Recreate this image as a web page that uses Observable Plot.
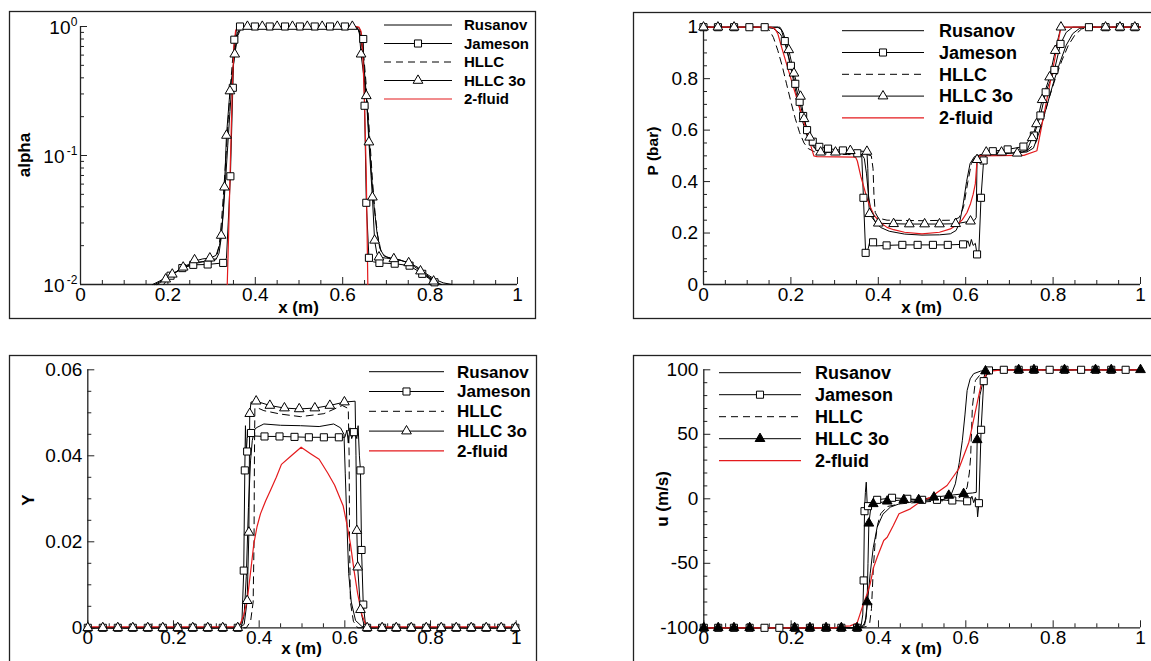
<!DOCTYPE html>
<html>
<head>
<meta charset="utf-8">
<script src="https://cdn.jsdelivr.net/npm/d3@7"></script>
<script src="https://cdn.jsdelivr.net/npm/@observablehq/plot@0.6"></script>
<style>
body { margin: 0; background: #fff; }
#root { position: relative; width: 1151px; height: 661px; overflow: hidden; background: #fff; }
</style>
</head>
<body>
<div id="root"></div>
<script>
// ---------------- tick labels / names ----------------
const xTickValues = [0, 0.2, 0.4, 0.6, 0.8, 1];
const alphaTickValues = [0.01, 0.1, 1];
const alphaTickExponents = ["-2", "-1", "0"];
const pTickValues = [0, 0.2, 0.4, 0.6, 0.8, 1];
const yTickValues = [0, 0.02, 0.04, 0.06];
const uTickValues = [-100, -50, 0, 50, 100];
const seriesNames = ["Rusanov", "Jameson", "HLLC", "HLLC 3o", "2-fluid"];

// ---------------- panel 1 : alpha (log) ----------------
const alphaRusanov = [[0.165,0.01],[0.18,0.0106],[0.2,0.0115],[0.22,0.0126],[0.24,0.0137],[0.26,0.0146],[0.28,0.015],[0.3,0.0152],[0.31,0.0156],[0.317,0.0175],[0.322,0.023],[0.327,0.037],[0.332,0.065],[0.337,0.12],[0.342,0.22],[0.347,0.38],[0.352,0.6],[0.357,0.8],[0.362,0.93],[0.368,0.985],[0.38,1],[0.62,1],[0.63,0.985],[0.636,0.94],[0.641,0.82],[0.646,0.62],[0.651,0.4],[0.656,0.24],[0.661,0.13],[0.666,0.07],[0.672,0.04],[0.678,0.026],[0.685,0.019],[0.695,0.0166],[0.71,0.016],[0.73,0.0155],[0.75,0.0148],[0.77,0.0137],[0.79,0.0122],[0.81,0.011],[0.83,0.0103],[0.85,0.01]];
const alphaHLLC = [[0.17,0.01],[0.19,0.0109],[0.21,0.012],[0.23,0.0132],[0.25,0.0142],[0.27,0.0149],[0.29,0.0152],[0.305,0.0155],[0.312,0.0165],[0.318,0.021],[0.323,0.032],[0.328,0.055],[0.333,0.1],[0.338,0.19],[0.343,0.34],[0.348,0.55],[0.354,0.78],[0.36,0.93],[0.367,0.985],[0.378,1],[0.622,1],[0.632,0.985],[0.638,0.93],[0.643,0.8],[0.648,0.6],[0.653,0.38],[0.658,0.22],[0.663,0.12],[0.668,0.065],[0.674,0.036],[0.68,0.024],[0.688,0.018],[0.7,0.0163],[0.72,0.0158],[0.74,0.0152],[0.76,0.0142],[0.78,0.0128],[0.8,0.0113],[0.82,0.0102],[0.826,0.01]];
const alphaHLLC3o = [[0.175,0.01],[0.185,0.0105],[0.21,0.012],[0.235,0.0136],[0.261,0.0152],[0.28,0.0158],[0.296,0.016],[0.31,0.0168],[0.318,0.02],[0.322,0.024],[0.326,0.035],[0.3295,0.0568],[0.334,0.143],[0.342,0.316],[0.353,0.61],[0.36,0.85],[0.368,0.98],[0.375,1],[0.625,1],[0.633,0.985],[0.638,0.9],[0.642,0.61],[0.654,0.29],[0.66,0.127],[0.668,0.0475],[0.673,0.022],[0.678,0.0175],[0.683,0.0163],[0.7,0.016],[0.717,0.0158],[0.735,0.0153],[0.751,0.0147],[0.765,0.0137],[0.778,0.0127],[0.793,0.0116],[0.808,0.0106],[0.818,0.01]];
const alphaJameson = [[0.19,0.01],[0.206,0.0117],[0.233,0.0134],[0.258,0.0142],[0.291,0.0143],[0.3265,0.0147],[0.334,0.016],[0.338,0.03],[0.343,0.069],[0.3486,0.335],[0.352,0.79],[0.358,0.97],[0.365,1],[0.63,1],[0.638,0.97],[0.647,0.8],[0.65,0.243],[0.654,0.043],[0.66,0.0161],[0.67,0.015],[0.684,0.0147],[0.719,0.0145],[0.753,0.014],[0.782,0.0121],[0.81,0.0104],[0.816,0.01]];
const alphaFluid = [[0.3358,0.01],[0.339,0.025],[0.343,0.09],[0.347,0.3],[0.351,0.7],[0.355,0.93],[0.36,0.995],[0.368,1],[0.63,1],[0.637,0.99],[0.642,0.92],[0.646,0.6],[0.65,0.25],[0.654,0.07],[0.6575,0.01]];
const alphaJamesonMarks = [[0.206,0.0117],[0.233,0.0134],[0.258,0.0142],[0.291,0.0143],[0.3265,0.0147],[0.343,0.069],[0.3486,0.335],[0.352,0.79],[0.365,1],[0.399,1],[0.433,1],[0.468,1],[0.502,1],[0.536,1],[0.571,1],[0.605,1],[0.647,0.8],[0.65,0.243],[0.654,0.043],[0.66,0.0161],[0.684,0.0147],[0.719,0.0145],[0.753,0.014],[0.782,0.0121],[0.81,0.0104]];
const alphaHLLC3oMarks = [[0.195,0.011],[0.21,0.012],[0.235,0.0136],[0.261,0.0155],[0.296,0.016],[0.322,0.024],[0.3295,0.0568],[0.334,0.143],[0.342,0.316],[0.353,0.61],[0.382,1],[0.416,1],[0.45,1],[0.485,1],[0.519,1],[0.553,1],[0.588,1],[0.622,1],[0.642,0.61],[0.654,0.29],[0.66,0.127],[0.668,0.0475],[0.673,0.022],[0.683,0.0163],[0.717,0.0158],[0.751,0.0147],[0.778,0.0127],[0.808,0.0106]];

// ---------------- panel 2 : P (bar) ----------------
const pRusanov = [[0,1],[0.17,1],[0.178,0.99],[0.185,0.95],[0.195,0.88],[0.205,0.8],[0.215,0.72],[0.225,0.645],[0.235,0.585],[0.245,0.548],[0.255,0.528],[0.27,0.516],[0.3,0.511],[0.34,0.508],[0.362,0.505],[0.368,0.49],[0.373,0.43],[0.378,0.34],[0.384,0.28],[0.392,0.245],[0.405,0.222],[0.425,0.207],[0.46,0.196],[0.5,0.192],[0.54,0.193],[0.565,0.197],[0.578,0.21],[0.586,0.24],[0.594,0.31],[0.602,0.4],[0.61,0.47],[0.62,0.497],[0.635,0.505],[0.7,0.51],[0.74,0.515],[0.755,0.53],[0.77,0.6],[0.785,0.69],[0.8,0.78],[0.815,0.86],[0.83,0.93],[0.845,0.975],[0.86,0.995],[0.875,1],[1,1]];
const pHLLC = [[0,1],[0.14,1],[0.15,0.99],[0.16,0.96],[0.17,0.91],[0.18,0.85],[0.19,0.78],[0.2,0.71],[0.21,0.645],[0.22,0.59],[0.23,0.55],[0.24,0.528],[0.255,0.515],[0.28,0.508],[0.33,0.505],[0.375,0.505],[0.384,0.5],[0.388,0.45],[0.39,0.35],[0.393,0.28],[0.4,0.258],[0.42,0.25],[0.5,0.248],[0.57,0.25],[0.585,0.26],[0.595,0.3],[0.605,0.4],[0.613,0.47],[0.622,0.497],[0.64,0.505],[0.7,0.512],[0.74,0.52],[0.76,0.55],[0.775,0.63],[0.79,0.72],[0.805,0.8],[0.82,0.87],[0.835,0.93],[0.85,0.97],[0.865,0.993],[0.88,1],[1,1]];
const pHLLC3o = [[0,1],[0.175,1],[0.182,0.98],[0.195,0.912],[0.207,0.821],[0.222,0.731],[0.23,0.644],[0.243,0.572],[0.255,0.53],[0.268,0.514],[0.302,0.514],[0.336,0.52],[0.374,0.517],[0.376,0.45],[0.378,0.32],[0.38,0.275],[0.39,0.25],[0.4,0.238],[0.435,0.236],[0.471,0.235],[0.506,0.235],[0.54,0.235],[0.577,0.236],[0.611,0.246],[0.62,0.25],[0.624,0.26],[0.626,0.485],[0.63,0.5],[0.647,0.514],[0.682,0.514],[0.718,0.51],[0.74,0.52],[0.752,0.57],[0.762,0.624],[0.775,0.718],[0.792,0.806],[0.805,0.909],[0.812,0.96],[0.818,1],[1,1]];
const pJameson = [[0,1],[0.14,1],[0.16,0.995],[0.175,0.975],[0.186,0.946],[0.2,0.85],[0.21,0.78],[0.22,0.71],[0.228,0.655],[0.237,0.6],[0.25,0.555],[0.265,0.535],[0.285,0.528],[0.319,0.521],[0.352,0.51],[0.362,0.505],[0.366,0.337],[0.371,0.123],[0.377,0.14],[0.381,0.17],[0.385,0.158],[0.388,0.164],[0.395,0.15],[0.419,0.152],[0.455,0.154],[0.49,0.154],[0.525,0.154],[0.559,0.154],[0.594,0.156],[0.6,0.155],[0.605,0.17],[0.609,0.148],[0.613,0.175],[0.617,0.152],[0.622,0.16],[0.626,0.117],[0.63,0.119],[0.635,0.337],[0.641,0.482],[0.65,0.515],[0.662,0.518],[0.696,0.525],[0.732,0.536],[0.756,0.579],[0.771,0.657],[0.783,0.747],[0.803,0.834],[0.817,0.935],[0.83,0.98],[0.845,1],[1,1]];
const pFluid = [[0,1],[0.155,1],[0.163,0.995],[0.17,0.975],[0.18,0.915],[0.2,0.8],[0.22,0.687],[0.24,0.572],[0.2525,0.5],[0.26,0.497],[0.348,0.495],[0.352,0.48],[0.36,0.42],[0.367,0.378],[0.375,0.33],[0.382,0.3],[0.39,0.27],[0.405,0.24],[0.42,0.222],[0.435,0.213],[0.46,0.203],[0.5,0.197],[0.54,0.203],[0.565,0.216],[0.58,0.232],[0.592,0.251],[0.603,0.28],[0.611,0.314],[0.617,0.35],[0.622,0.391],[0.626,0.482],[0.632,0.5],[0.733,0.502],[0.763,0.52],[0.818,1],[1,1]];
const pJamesonMarks = [[0,1],[0.033,1],[0.07,1],[0.105,1],[0.14,1],[0.186,0.946],[0.2,0.85],[0.21,0.78],[0.22,0.71],[0.228,0.655],[0.237,0.6],[0.25,0.555],[0.265,0.535],[0.285,0.528],[0.319,0.521],[0.352,0.51],[0.366,0.337],[0.371,0.123],[0.388,0.164],[0.419,0.152],[0.455,0.154],[0.49,0.154],[0.525,0.154],[0.559,0.154],[0.594,0.156],[0.626,0.117],[0.635,0.337],[0.641,0.482],[0.662,0.518],[0.696,0.525],[0.732,0.536],[0.756,0.579],[0.771,0.657],[0.783,0.747],[0.803,0.834],[0.817,0.935],[0.882,1],[0.92,1],[0.953,1],[0.987,1]];
const pHLLC3oMarks = [[0,1],[0.033,1],[0.07,1],[0.195,0.912],[0.207,0.821],[0.222,0.731],[0.23,0.644],[0.243,0.572],[0.268,0.514],[0.302,0.514],[0.336,0.52],[0.374,0.517],[0.38,0.275],[0.4,0.238],[0.435,0.236],[0.471,0.235],[0.506,0.235],[0.54,0.235],[0.577,0.236],[0.611,0.246],[0.626,0.485],[0.647,0.514],[0.682,0.514],[0.718,0.51],[0.752,0.57],[0.762,0.624],[0.775,0.718],[0.792,0.806],[0.805,0.909],[0.818,1],[0.92,1],[0.953,1],[0.987,1]];

// ---------------- panel 3 : Y ----------------
const yRusanov = [[0,0],[0.355,0],[0.36,0.0008],[0.365,0.003],[0.37,0.012],[0.375,0.028],[0.38,0.039],[0.384,0.0436],[0.39,0.0462],[0.395,0.0466],[0.411,0.0474],[0.45,0.0471],[0.4965,0.047],[0.54,0.0468],[0.574,0.0474],[0.59,0.0465],[0.598,0.045],[0.601,0.0358],[0.605,0.024],[0.609,0.0126],[0.615,0.006],[0.625,0.0017],[0.64,0.0003],[0.65,0],[1,0]];
const yHLLC = [[0,0],[0.37,0],[0.38,0.0015],[0.386,0.006],[0.388,0.02],[0.389,0.04],[0.39,0.051],[0.395,0.0512],[0.411,0.0505],[0.45,0.0497],[0.4965,0.0491],[0.551,0.0498],[0.594,0.0517],[0.608,0.051],[0.61,0.04],[0.611,0.02],[0.613,0.006],[0.62,0.0015],[0.63,0],[1,0]];
const yHLLC3o = [[0,0],[0.355,0],[0.365,0.0008],[0.372,0.0063],[0.376,0.0222],[0.378,0.0498],[0.381,0.0525],[0.393,0.0527],[0.425,0.0517],[0.459,0.0511],[0.4935,0.0509],[0.53,0.0511],[0.565,0.0517],[0.599,0.0525],[0.624,0.0527],[0.626,0.04],[0.628,0.0226],[0.63,0.0141],[0.6365,0.0042],[0.645,0.0005],[0.655,0],[1,0]];
const yJameson = [[0,0],[0.355,0],[0.36,0.002],[0.364,0.0133],[0.3665,0.0366],[0.368,0.047],[0.37,0.041],[0.372,0.044],[0.376,0.046],[0.381,0.0453],[0.39,0.0446],[0.4125,0.0445],[0.4475,0.0445],[0.4825,0.0444],[0.516,0.0443],[0.551,0.0443],[0.586,0.0443],[0.6,0.0443],[0.605,0.046],[0.608,0.043],[0.612,0.0465],[0.616,0.044],[0.621,0.0455],[0.625,0.045],[0.628,0.044],[0.631,0.047],[0.634,0.04],[0.6365,0.0366],[0.639,0.0181],[0.643,0.0054],[0.648,0.001],[0.652,0],[1,0]];
const yFluid = [[0,0.0002],[0.35,0.0002],[0.356,0.0009],[0.364,0.003],[0.372,0.0063],[0.38,0.013],[0.3875,0.0195],[0.395,0.0235],[0.403,0.0265],[0.415,0.0295],[0.4265,0.032],[0.44,0.035],[0.452,0.038],[0.475,0.04],[0.498,0.042],[0.52,0.0405],[0.54,0.0392],[0.56,0.036],[0.576,0.0332],[0.596,0.0284],[0.605,0.024],[0.613,0.0195],[0.622,0.013],[0.63,0.0079],[0.64,0.003],[0.648,0.0009],[0.655,0.0002],[1,0.0002]];
const yJamesonMarks = [[0,0],[0.035,0],[0.07,0],[0.105,0],[0.14,0],[0.175,0],[0.21,0],[0.245,0],[0.28,0],[0.315,0],[0.35,0],[0.364,0.0133],[0.3665,0.0366],[0.372,0.041],[0.381,0.0453],[0.4125,0.0445],[0.4475,0.0445],[0.4825,0.0444],[0.516,0.0443],[0.551,0.0443],[0.586,0.0443],[0.621,0.0455],[0.6365,0.0366],[0.639,0.0181],[0.643,0.0054],[0.652,0],[0.687,0],[0.72,0],[0.755,0],[0.79,0],[0.825,0],[0.86,0],[0.895,0],[0.93,0],[0.965,0],[0.998,0]];
const yHLLC3oMarks = [[0,0],[0.035,0],[0.07,0],[0.105,0],[0.14,0],[0.175,0],[0.21,0],[0.245,0],[0.28,0],[0.315,0],[0.35,0],[0.372,0.0063],[0.376,0.0222],[0.378,0.0498],[0.393,0.0527],[0.425,0.0517],[0.459,0.0511],[0.4935,0.0509],[0.53,0.0511],[0.565,0.0517],[0.599,0.0525],[0.628,0.0226],[0.63,0.0141],[0.6365,0.0042],[0.652,0],[0.687,0],[0.72,0],[0.755,0],[0.79,0],[0.825,0],[0.86,0],[0.895,0],[0.93,0],[0.965,0],[0.998,0]];

// ---------------- panel 4 : u (m/s) ----------------
const uRusanov = [[0,-100],[0.355,-100],[0.362,-99],[0.367,-97],[0.37,-94],[0.375,-80],[0.381,-58],[0.388,-38],[0.397,-22],[0.41,-12],[0.427,-6.5],[0.458,-2.6],[0.5,-1.2],[0.55,-0.5],[0.565,2],[0.576,11.6],[0.585,28],[0.592,45],[0.598,65],[0.603,84],[0.61,93],[0.618,97],[0.634,99],[0.66,100],[1,100]];
const uHLLC = [[0,-100],[0.36,-100],[0.372,-99],[0.38,-96],[0.384,-85],[0.386,-70],[0.388,-55],[0.392,-35],[0.398,-20],[0.405,-11.6],[0.42,-6],[0.45,-3.9],[0.5,-2.5],[0.55,-1.5],[0.58,0],[0.595,3],[0.603,9],[0.608,20],[0.611,32.2],[0.615,71],[0.622,91.7],[0.637,98],[0.66,100],[1,100]];
const uHLLC3o = [[0,-100],[0.36,-100],[0.368,-98],[0.372,-92],[0.374,-80],[0.376,-50],[0.378,-19],[0.382,-8],[0.388,-3.9],[0.42,-1.9],[0.458,-0.8],[0.492,-0.8],[0.527,1.2],[0.561,2.6],[0.595,3.9],[0.615,4.5],[0.624,5],[0.626,45.7],[0.632,80],[0.645,99],[0.66,100],[1,100]];
const uJameson = [[0,-100],[0.355,-100],[0.36,-99],[0.364,-90],[0.366,-63.3],[0.368,-9.6],[0.37,5],[0.372,12.9],[0.374,-3],[0.376,-5.7],[0.385,-2],[0.397,-0.8],[0.431,0.8],[0.466,0],[0.5,-0.8],[0.534,-0.8],[0.569,-1.3],[0.603,-1.9],[0.61,-1],[0.614,2],[0.618,-3],[0.622,1],[0.625,-2],[0.627,-14],[0.63,-3.4],[0.635,53.5],[0.641,91.2],[0.653,99.5],[0.67,100],[1,100]];
const uFluid = [[0,-100],[0.3,-100],[0.313,-99],[0.335,-98.5],[0.351,-96.4],[0.363,-84],[0.374,-73.6],[0.381,-66],[0.389,-53],[0.397,-45.3],[0.412,-32.3],[0.42,-29.8],[0.434,-20.7],[0.447,-11.6],[0.473,-7.8],[0.497,-2],[0.519,1.2],[0.557,10.3],[0.584,23.3],[0.607,43.9],[0.624,71],[0.637,91.7],[0.653,98.7],[0.672,99.5],[0.7,100],[1,100]];
const uJamesonMarks = [[0,-100],[0.033,-100],[0.069,-100],[0.105,-100],[0.139,-100],[0.173,-100],[0.208,-100],[0.243,-100],[0.28,-100],[0.315,-100],[0.351,-100],[0.366,-63.3],[0.368,-9.6],[0.376,-5.7],[0.397,-0.8],[0.431,0.8],[0.466,0],[0.5,-0.8],[0.534,-0.8],[0.569,-1.3],[0.603,-1.9],[0.63,-3.4],[0.635,53.5],[0.641,91.2],[0.653,99.5],[0.687,100],[0.721,100],[0.756,100],[0.792,100],[0.826,100],[0.864,100],[0.897,100],[0.933,100],[0.966,100]];
const uHLLC3oMarks = [[0,-100],[0.033,-100],[0.069,-100],[0.105,-100],[0.208,-100],[0.243,-100],[0.28,-100],[0.315,-100],[0.351,-100],[0.374,-80],[0.378,-19],[0.388,-3.9],[0.42,-1.9],[0.458,-0.8],[0.492,-0.8],[0.527,1.2],[0.561,2.6],[0.595,3.9],[0.626,45.7],[0.645,99],[0.721,100],[0.756,100],[0.826,100],[0.897,100],[0.933,100],[1,100]];

// ---------------- drawing ----------------
const FONT = '"Liberation Sans", Arial, Helvetica, sans-serif';
const RED = "#e41a1c";
const AX = "#222";
const TICKFS = 19;
const root = document.getElementById("root");
const XY = {x: d => d[0], y: d => d[1]};

function buildPanel(cfg) {
  const pw = cfg.width - cfg.mL - cfg.mR, ph = cfg.height - cfg.mT - cfg.mB;
  const marks = [
    Plot.ruleX(cfg.xMinor, {x: d => d, insetTop: ph - 4, stroke: AX}),
    Plot.ruleX(xTickValues, {x: d => d, insetTop: ph - 7, stroke: AX}),
    Plot.ruleY(cfg.yMinor, {y: d => d, insetRight: pw - 4, stroke: AX}),
    Plot.ruleY(cfg.yMajor, {y: d => d, insetRight: pw - 7, stroke: AX}),
    Plot.ruleX([0], {stroke: AX, strokeWidth: 1.3}),
    Plot.ruleY([cfg.yDomain[0]], {stroke: AX, strokeWidth: 1.3}),
    Plot.axisX({ticks: xTickValues, tickSize: 0, tickPadding: 2.5, fontSize: TICKFS, tickFormat: d => String(d), label: null}),
    ...cfg.yAxisMarks,
    Plot.line(cfg.series[0], {...XY, stroke: "#000", strokeWidth: 1}),
    Plot.line(cfg.series[1], {...XY, stroke: "#000", strokeWidth: 1}),
    Plot.line(cfg.series[2], {...XY, stroke: "#000", strokeWidth: 1, strokeDasharray: "7,5"}),
    Plot.line(cfg.series[3], {...XY, stroke: "#000", strokeWidth: 1}),
    Plot.line(cfg.series[4], {...XY, stroke: RED, strokeWidth: 1.2}),
    Plot.dot(cfg.jamesonMarks, {...XY, symbol: "square", r: 4, fill: "#fff", stroke: "#000", strokeWidth: 1}),
    Plot.dot(cfg.hllc3oMarks, {...XY, symbol: "triangle", r: 3.6, fill: cfg.triFill, stroke: "#000", strokeWidth: 1})
  ];
  const svg = Plot.plot({
    width: cfg.width, height: cfg.height,
    marginLeft: cfg.mL, marginRight: cfg.mR, marginTop: cfg.mT, marginBottom: cfg.mB,
    x: {domain: [0, 1], axis: null},
    y: {type: cfg.yType, domain: cfg.yDomain, axis: null},
    style: {fontFamily: FONT, fontSize: TICKFS + "px", color: "#000", background: "transparent", overflow: "visible"},
    marks
  });
  svg.style.position = "absolute";
  svg.style.left = cfg.left + "px";
  svg.style.top = cfg.top + "px";
  root.append(svg);
}

const xMinor = d3.range(0.05, 1, 0.05).filter(v => Math.abs(v / 0.2 - Math.round(v / 0.2)) > 1e-6);
const linYAxis = (ticks) => [Plot.axisY({ticks, tickSize: 0, tickPadding: 5.5, fontSize: TICKFS, tickFormat: d => String(d), label: null})];

// Panel 1
const alphaMinor = [];
for (const dec of [0.01, 0.1]) for (let k = 2; k <= 9; k++) alphaMinor.push(dec * k);
buildPanel({
  left: 9, top: 11, width: 526, height: 307, mL: 71, mR: 18, mT: 15, mB: 34,
  yType: "log", yDomain: [0.01, 1], xMinor, yMinor: alphaMinor, yMajor: alphaTickValues,
  yAxisMarks: [
    Plot.text(alphaTickValues, {y: d => d, frameAnchor: "left", text: (d, i) => alphaTickExponents[i], textAnchor: "end", dx: -3, dy: -4, fontSize: 12}),
    Plot.text(alphaTickValues.filter(v => v === 1), {y: d => d, frameAnchor: "left", text: () => "10", textAnchor: "end", dx: -10, dy: 1.5, fontSize: TICKFS}),
    Plot.text(alphaTickValues.filter(v => v < 1), {y: d => d, frameAnchor: "left", text: () => "10", textAnchor: "end", dx: -16, dy: 1.5, fontSize: TICKFS})
  ],
  series: [alphaRusanov, alphaJameson, alphaHLLC, alphaHLLC3o, alphaFluid],
  jamesonMarks: alphaJamesonMarks, hllc3oMarks: alphaHLLC3oMarks, triFill: "#fff"
});

// Panel 2
buildPanel({
  left: 633, top: 12, width: 518, height: 306, mL: 70, mR: 11, mT: 14.7, mB: 34,
  yType: "linear", yDomain: [0, 1], xMinor,
  yMinor: d3.range(0.05, 1, 0.05).filter(v => Math.abs(v / 0.2 - Math.round(v / 0.2)) > 1e-6), yMajor: pTickValues,
  yAxisMarks: linYAxis(pTickValues),
  series: [pRusanov, pJameson, pHLLC, pHLLC3o, pFluid],
  jamesonMarks: pJamesonMarks, hllc3oMarks: pHLLC3oMarks, triFill: "#fff"
});

// Panel 3
buildPanel({
  left: 9, top: 355, width: 527, height: 306, mL: 78.3, mR: 20.3, mT: 14.3, mB: 33.7,
  yType: "linear", yDomain: [0, 0.06], xMinor,
  yMinor: d3.range(1, 12).filter(k => k % 4 !== 0).map(k => k * 0.005), yMajor: yTickValues,
  yAxisMarks: linYAxis(yTickValues),
  series: [yRusanov, yJameson, yHLLC, yHLLC3o, yFluid],
  jamesonMarks: yJamesonMarks, hllc3oMarks: yHLLC3oMarks, triFill: "#fff"
});

// Panel 4
buildPanel({
  left: 633, top: 355, width: 518, height: 306, mL: 70.3, mR: 11, mT: 14.3, mB: 33.7,
  yType: "linear", yDomain: [-100, 100], xMinor,
  yMinor: d3.range(-90, 100, 10).filter(v => v % 50 !== 0), yMajor: uTickValues,
  yAxisMarks: linYAxis(uTickValues),
  series: [uRusanov, uJameson, uHLLC, uHLLC3o, uFluid],
  jamesonMarks: uJamesonMarks, hllc3oMarks: uHLLC3oMarks, triFill: "#000"
});

// ---------------- overlay: frames, titles, legends ----------------
const ov = d3.create("svg").attr("width", 1151).attr("height", 661)
  .style("position", "absolute").style("left", "0px").style("top", "0px")
  .style("font-family", FONT).style("pointer-events", "none");

for (const [x, y, w, h] of [[9, 11, 526, 307], [633, 12, 530, 306], [9, 355, 527, 320], [633, 355, 530, 320]]) {
  ov.append("rect").attr("x", x + 0.5).attr("y", y + 0.5).attr("width", w).attr("height", h)
    .attr("fill", "none").attr("stroke", AX).attr("stroke-width", 1.3);
}

const titles = [
  {t: "x (m)", x: 298.5, y: 313, r: false, s: 17},
  {t: "x (m)", x: 921.5, y: 313, r: false, s: 17},
  {t: "x (m)", x: 301.5, y: 654, r: false, s: 17},
  {t: "x (m)", x: 921.5, y: 654, r: false, s: 17},
  {t: "alpha", x: 24, y: 155, r: true, s: 17},
  {t: "P (bar)", x: 653, y: 151, r: true, s: 15.5},
  {t: "Y", x: 28, y: 500, r: true, s: 17},
  {t: "u (m/s)", x: 662, y: 499, r: true, s: 17}
];
for (const tt of titles) {
  const el = ov.append("text").text(tt.t).attr("font-weight", "bold").attr("font-size", tt.s)
    .attr("text-anchor", "middle").attr("fill", "#000");
  if (tt.r) el.attr("transform", `translate(${tt.x},${tt.y}) rotate(-90)`).attr("dy", "0.35em");
  else el.attr("x", tt.x).attr("y", tt.y);
}

const legends = [
  {x1: 384, x2: 452, tx: 464, y0: 25, dy: 18.5, fs: 15, tri: "#fff"},
  {x1: 842, x2: 924, tx: 939, y0: 30.7, dy: 21.8, fs: 18, tri: "#fff"},
  {x1: 369, x2: 444, tx: 457, y0: 371.7, dy: 19.8, fs: 17, tri: "#fff"},
  {x1: 719, x2: 801, tx: 815, y0: 372.7, dy: 22, fs: 18, tri: "#000"}
];
const sq = d3.symbol(d3.symbolSquare, Math.PI * 16)();
const tr = d3.symbol(d3.symbolTriangle, Math.PI * 3.6 * 3.6)();
for (const L of legends) {
  seriesNames.forEach((name, i) => {
    const y = L.y0 + i * L.dy;
    const ln = ov.append("line").attr("x1", L.x1).attr("x2", L.x2).attr("y1", y).attr("y2", y)
      .attr("stroke", i === 4 ? RED : "#000").attr("stroke-width", i === 4 ? 1.2 : 1);
    if (i === 2) ln.attr("stroke-dasharray", "7,5");
    const mx = (L.x1 + L.x2) / 2;
    if (i === 1) ov.append("path").attr("d", sq).attr("transform", `translate(${mx},${y})`).attr("fill", "#fff").attr("stroke", "#000");
    if (i === 3) ov.append("path").attr("d", tr).attr("transform", `translate(${mx},${y})`).attr("fill", L.tri).attr("stroke", "#000");
    ov.append("text").text(name).attr("x", L.tx).attr("y", y).attr("dy", "0.35em")
      .attr("font-weight", "bold").attr("font-size", L.fs).attr("fill", "#000");
  });
}
root.append(ov.node());
</script>
</body>
</html>
